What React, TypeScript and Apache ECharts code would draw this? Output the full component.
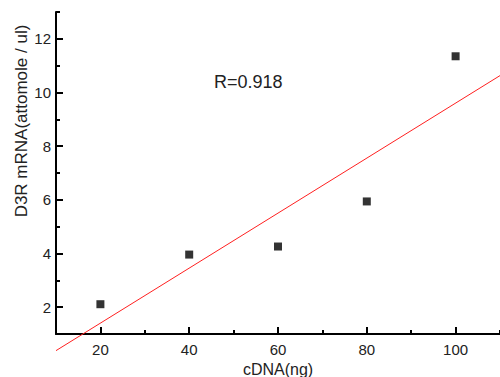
import React, { useEffect, useRef } from "react";
import * as echarts from "echarts";

const cdnaNg = [20, 40, 60, 80, 100];
const mrnaAttomole = [2.11, 3.96, 4.26, 5.94, 11.35];
const fitX = [10, 110];
const fitY = [0.38, 10.63];
const xMajorTicks = [20, 40, 60, 80, 100];
const xMinorTicks = [10, 30, 50, 70, 90, 110];
const yMajorTicks = [2, 4, 6, 8, 10, 12];
const yMinorTicks = [1, 3, 5, 7, 9, 11, 13];
const rLabel = "R=0.918";
const xName = "cDNA(ng)";
const yName = "D3R mRNA(attomole / ul)";

export default function App() {
  const ref = useRef<HTMLDivElement>(null);
  useEffect(() => {
    if (!ref.current) return;
    const chart = echarts.init(ref.current, undefined, { renderer: "svg" });
    const font = "Liberation Sans, Arial, sans-serif";
    const grid = { left: 56, top: 12, width: 444, height: 322, containLabel: false, outerBoundsMode: "none" };
    const baseAxis = {
      type: "value" as const,
      splitLine: { show: false },
    };
    chart.setOption({
      animation: false,
      backgroundColor: "#fff",
      grid,
      xAxis: [
        {
          ...baseAxis,
          min: 10,
          max: 110,
          position: "bottom",
          name: xName,
          nameLocation: "middle",
          nameGap: 25,
          nameTextStyle: { fontFamily: font, fontSize: 16, color: "#222" },
          axisLine: { show: true, onZero: false, lineStyle: { color: "#000", width: 2 } },
          axisTick: { show: true, inside: true, length: 7, customValues: xMajorTicks, lineStyle: { color: "#000", width: 2 } },
          axisLabel: { show: true, customValues: xMajorTicks, margin: 8, fontFamily: font, fontSize: 15, color: "#222" },
        },
        {
          ...baseAxis,
          min: 10,
          max: 110,
          position: "bottom",
          axisLine: { show: false },
          axisTick: { show: true, inside: true, length: 4, customValues: xMinorTicks, lineStyle: { color: "#000", width: 2 } },
          axisLabel: { show: false },
        },
      ],
      yAxis: [
        {
          ...baseAxis,
          min: 1,
          max: 13,
          position: "left",
          axisLine: { show: true, onZero: false, lineStyle: { color: "#000", width: 2 } },
          axisTick: { show: true, inside: true, length: 7, customValues: yMajorTicks, lineStyle: { color: "#000", width: 2 } },
          axisLabel: { show: true, customValues: yMajorTicks, margin: 5, fontFamily: font, fontSize: 15, color: "#222" },
        },
        {
          ...baseAxis,
          min: 1,
          max: 13,
          position: "left",
          axisLine: { show: false },
          axisTick: { show: true, inside: true, length: 4, customValues: yMinorTicks, lineStyle: { color: "#000", width: 2 } },
          axisLabel: { show: false },
        },
      ],
      graphic: [
        {
          type: "text",
          x: 21,
          y: 121,
          rotation: Math.PI / 2,
          style: {
            text: yName,
            fontFamily: font,
            fontSize: 17,
            fill: "#222",
            align: "center",
            verticalAlign: "middle",
          },
        },
        {
          type: "text",
          x: 214,
          y: 82,
          style: {
            text: rLabel,
            fontFamily: font,
            fontSize: 18,
            fill: "#222",
            align: "left",
            verticalAlign: "middle",
          },
        },
      ],
      series: [
        {
          type: "line",
          xAxisIndex: 0,
          yAxisIndex: 0,
          data: fitX.map((x, i) => [x, fitY[i]]),
          showSymbol: false,
          symbol: "none",
          clip: false,
          lineStyle: { color: "#ff2020", width: 1 },
          z: 2,
        },
        {
          type: "scatter",
          xAxisIndex: 0,
          yAxisIndex: 0,
          data: cdnaNg.map((x, i) => [x, mrnaAttomole[i]]),
          symbol: "rect",
          symbolSize: 8,
          itemStyle: { color: "#000" },
          z: 3,
        },
      ],
    });
    return () => chart.dispose();
  }, []);
  return <div ref={ref} style={{ width: 500, height: 377, position: "fixed", left: 0, top: 0 }} />;
}
